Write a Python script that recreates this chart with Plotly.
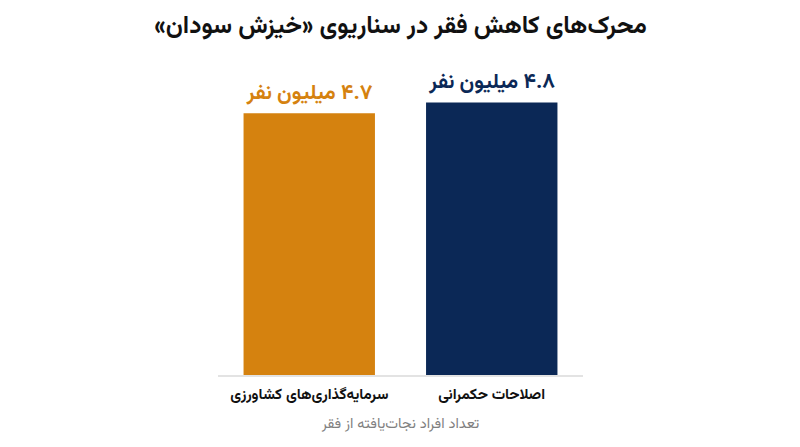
import plotly.graph_objects as go

categories = ["اصلاحات حکمرانی", "سرمایه‌گذاری‌های کشاورزی"]
values = [4.8, 4.7]
colors = ["#0B2856", "#D5820F"]
title_text = "محرک‌های کاهش فقر در سناریوی «خیزش سودان»"
x_title = "تعداد افراد نجات‌یافته از فقر"
unit = "میلیون نفر"

RLM = "\u200F"

def fa_digits(s):
    return s.translate(str.maketrans("0123456789", "۰۱۲۳۴۵۶۷۸۹"))

def rtl(s):
    return RLM + s + RLM

labels = [rtl(f"{fa_digits(f'{v:.1f}')} {unit}") for v in values]

FONT = "Vazirmatn, 'Noto Sans Arabic', 'DejaVu Sans', sans-serif"

fig = go.Figure(
    go.Bar(
        x=[rtl(c) for c in categories],
        y=values,
        marker=dict(color=colors, line=dict(width=0)),
        text=labels,
        textposition="outside",
        textfont=dict(size=21, color=colors, family=FONT, weight="bold"),
        cliponaxis=False,
        width=0.72,
    )
)

fig.update_layout(
    width=800,
    height=447,
    paper_bgcolor="white",
    plot_bgcolor="white",
    margin=dict(l=210, r=225, t=57, b=80),
    font=dict(family=FONT),
    title=dict(
        text=f"<b>{rtl(title_text)}</b>",
        x=0.5,
        xanchor="center",
        xref="paper",
        y=0.963,
        yanchor="middle",
        font=dict(size=24.5, color="#111111", family=FONT),
    ),
    showlegend=False,
    bargap=0.28,
)

fig.update_xaxes(
    autorange="reversed",
    showline=True,
    linecolor="#E3E3E3",
    linewidth=1.5,
    ticks="",
    ticklabelstandoff=4,
    tickfont=dict(size=15, color="#111111", family=FONT, weight="bold"),
    title=dict(text=rtl(x_title), font=dict(size=14.5, color="#808080", family=FONT), standoff=12),
    showgrid=False,
)
fig.update_yaxes(
    range=[2.32, 5.14],
    visible=False,
    showgrid=False,
)

fig.write_html("out.html")
